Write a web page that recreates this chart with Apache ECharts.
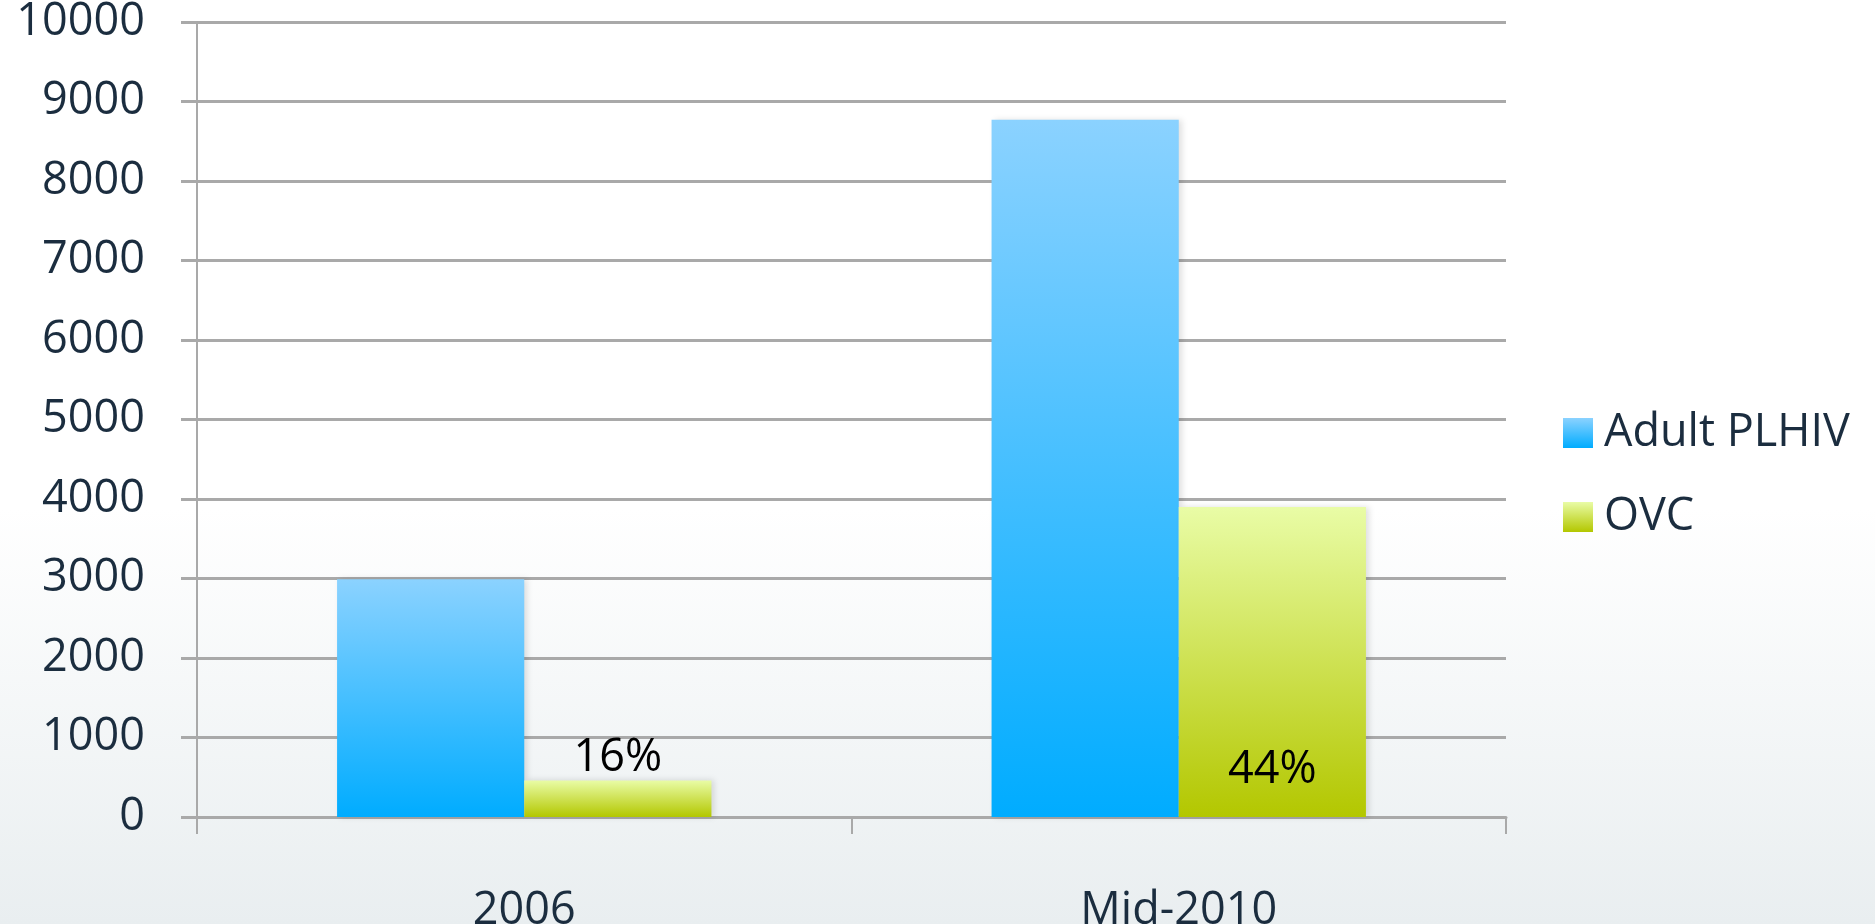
<!DOCTYPE html>
<html>
<head>
<meta charset="utf-8">
<script src="https://cdn.jsdelivr.net/npm/echarts@6/dist/echarts.min.js"></script>
<style>
  html, body { margin: 0; padding: 0; }
  #chart {
    width: 1875px;
    height: 924px;
    background: linear-gradient(to bottom, #ffffff 0%, #ffffff 55%, #e9eef0 100%);
  }
</style>
</head>
<body>
<div id="chart"></div>
<script>
// chart data
const categories = ['2006', 'Mid-2010'];
const adultPlhiv = [2990, 8770];
const ovc = [460, 3900];
const ovcShare = ['16%', '44%'];

const textColor = '#1b2d3f';
const gridColor = '#a9a9a9';
const font = '"Open Sans", "Noto Sans", sans-serif';

const chart = echarts.init(document.getElementById('chart'));

function vGrad(top, bottom) {
    return new echarts.graphic.LinearGradient(0, 0, 0, 1, [
        { offset: 0, color: top },
        { offset: 1, color: bottom }
    ]);
}

const option = {
    backgroundColor: 'transparent',
    animation: false,
    grid: { left: 197, right: 369, top: 22, bottom: 107, outerBoundsMode: 'none', containLabel: false },
    legend: {
        orient: 'vertical',
        left: 1558,
        top: 403,
        itemWidth: 30,
        itemHeight: 30,
        itemGap: 34,
        icon: 'rect',
        textStyle: {
            color: textColor,
            fontFamily: font,
            fontSize: 45,
            lineHeight: 50,
            padding: [0, 0, 0, 6]
        }
    },
    xAxis: {
        type: 'category',
        data: categories,
        axisLine: { lineStyle: { color: gridColor, width: 3 } },
        axisTick: { show: true, length: 17, lineStyle: { color: gridColor, width: 2 } },
        axisLabel: {
            color: textColor,
            fontFamily: font,
            fontSize: 45,
            margin: 72
        }
    },
    yAxis: {
        type: 'value',
        min: 0,
        max: 10000,
        interval: 1000,
        axisLine: { show: true, lineStyle: { color: gridColor, width: 2 } },
        axisTick: { show: true, length: 16, lineStyle: { color: gridColor, width: 3 } },
        splitLine: { lineStyle: { color: gridColor, width: 3 } },
        axisLabel: {
            color: textColor,
            fontFamily: font,
            fontSize: 45,
            margin: 52,
            padding: [12, 0, 0, 0],
            formatter: v => String(v)
        }
    },
    series: [
        {
            name: 'Adult PLHIV',
            type: 'bar',
            data: adultPlhiv,
            barGap: '0%',
            barCategoryGap: '42.8%',
            itemStyle: {
                color: vGrad('#8bd2ff', '#00acff'),
                shadowColor: 'rgba(0,0,0,0.12)',
                shadowBlur: 6,
                shadowOffsetX: 3
            }
        },
        {
            name: 'OVC',
            type: 'bar',
            data: ovc.map((v, i) => ({
                value: v,
                label: i === 0
                    ? { position: 'top', distance: 0 }
                    : { position: 'insideBottom', distance: 24 }
            })),
            itemStyle: {
                color: vGrad('#e9fca6', '#b3c700'),
                shadowColor: 'rgba(0,0,0,0.12)',
                shadowBlur: 6,
                shadowOffsetX: 3
            },
            label: {
                show: true,
                color: '#000',
                fontFamily: font,
                fontSize: 45,
                formatter: p => ovcShare[p.dataIndex]
            }
        }
    ]
};

chart.setOption(option);
</script>
</body>
</html>
